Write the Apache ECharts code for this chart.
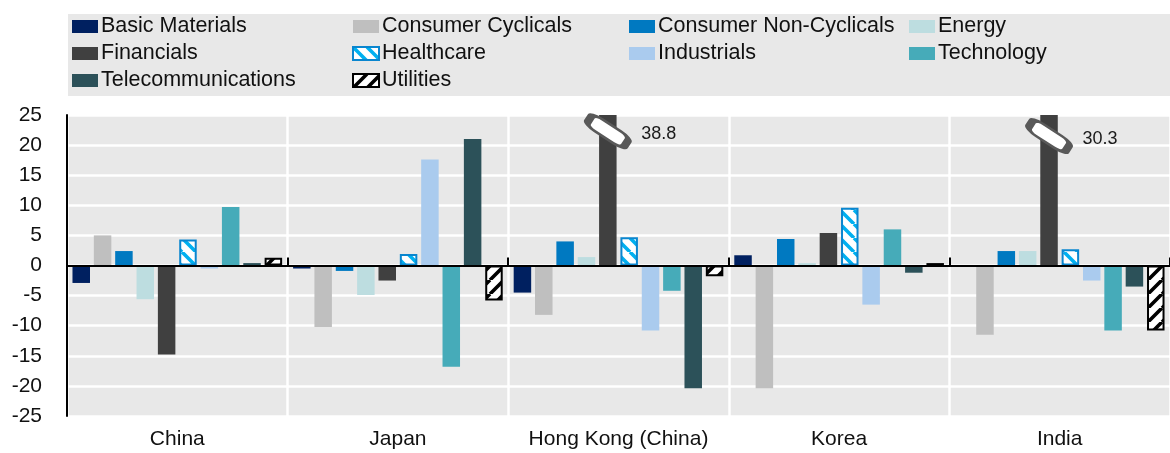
<!DOCTYPE html>
<html>
<head>
<meta charset="utf-8">
<script src="https://cdn.jsdelivr.net/npm/echarts@6/dist/echarts.min.js"></script>
<style>
  html, body { margin: 0; padding: 0; background: #fff; }
  #chart { width: 1170px; height: 453px; }
</style>
</head>
<body>
<div id="chart"></div>
<script>
  // 数据
  const categories = ['China', 'Japan', 'Hong Kong (China)', 'Korea', 'India'];
  const basicMaterials = [-2.9, -0.5, -4.5, 1.7, 0];
  const consumerCyclicals = [5.0, -10.2, -8.2, -20.4, -11.5];
  const consumerNonCyclicals = [2.4, -0.9, 4.0, 4.4, 2.4];
  const energy = [-5.6, -4.9, 1.4, 0.4, 2.4];
  const financials = [-14.8, -2.5, 38.8, 5.4, 30.3];
  const healthcare = [4.3, 1.9, 4.7, 9.6, 2.7];
  const industrials = [-0.5, 17.6, -10.8, -6.5, -2.5];
  const technology = [9.7, -16.8, -4.2, 6.0, -10.8];
  const telecommunications = [0.4, 21.0, -20.4, -1.2, -3.5];
  const utilities = [1.3, -5.8, -1.8, 0.4, -10.8];
  // 轴断开标记（超出范围的柱子）
  const breakAt = [null, null, 22.3, null, 21.5];
  const yMin = -25, yMax = 25, yStep = 5;

  const FONT = "'Liberation Sans', Arial, sans-serif";

  // 斜线填充
  function stripes(color, dir) {
    const p = 14;
    const c = document.createElement('canvas');
    c.width = p; c.height = p;
    const ctx = c.getContext('2d');
    ctx.fillStyle = '#fff';
    ctx.fillRect(0, 0, p, p);
    ctx.strokeStyle = color;
    ctx.lineWidth = 3.6;
    ctx.beginPath();
    for (let k = -1; k <= 1; k++) {
      if (dir === '\\') {
        ctx.moveTo(k * p, 0); ctx.lineTo(k * p + p, p);
      } else {
        ctx.moveTo(k * p, p); ctx.lineTo(k * p + p, 0);
      }
    }
    ctx.stroke();
    return { image: c, repeat: 'repeat' };
  }

  const seriesDefs = [
    { name: 'Basic Materials', data: basicMaterials, color: '#002060' },
    { name: 'Consumer Cyclicals', data: consumerCyclicals, color: '#bfbfbf' },
    { name: 'Consumer Non-Cyclicals', data: consumerNonCyclicals, color: '#0079c1' },
    { name: 'Energy', data: energy, color: '#bddde0' },
    { name: 'Financials', data: financials, color: '#404040' },
    { name: 'Healthcare', data: healthcare, color: stripes('#00b0f0', '\\'), border: '#0a86cf' },
    { name: 'Industrials', data: industrials, color: '#aacbee' },
    { name: 'Technology', data: technology, color: '#46abb9' },
    { name: 'Telecommunications', data: telecommunications, color: '#2c5159' },
    { name: 'Utilities', data: utilities, color: stripes('#000', '/'), border: '#000' },
  ];

  const series = seriesDefs.map(function (s) {
    const item = {
      name: s.name,
      type: 'bar',
      data: s.data,
      barWidth: 17.5,
      barGap: '22%',
      itemStyle: {
        color: s.color,
        borderColor: s.border || s.color,
        borderWidth: s.border ? 2 : 0,
      },
    };
    if (s.name === 'Financials') {
      const marks = [];
      breakAt.forEach(function (b, i) {
        if (b == null) return;
        marks.push({
          coord: [categories[i], b],
          symbol: 'roundRect',
          symbolSize: [44, 14],
          symbolRotate: -33,
          itemStyle: { color: '#fff', borderColor: '#595959', borderWidth: 4.5 },
          label: { show: false },
        });
        marks.push({
          coord: [categories[i], b],
          value: financials[i],
          symbol: 'circle',
          symbolSize: 1,
          itemStyle: { color: 'rgba(0,0,0,0)' },
          label: {
            show: true,
            position: 'right',
            distance: 33,
            offset: [0, 3],
            formatter: function (p) { return p.value.toFixed(1); },
            color: '#1a1a1a',
            fontSize: 18,
            fontFamily: FONT,
          },
        });
      });
      item.markPoint = { animation: false, data: marks };
    }
    return item;
  });

  const legendText = { color: '#111', fontSize: 21.5, fontFamily: FONT, lineHeight: 27, padding: [0, 0, 0, -2] };
  function legendCol(left, names) {
    return {
      orient: 'vertical',
      left: left,
      top: 13,
      itemWidth: 26,
      itemHeight: 13,
      itemGap: 0,
      icon: 'rect',
      padding: 0,
      textStyle: legendText,
      data: names,
    };
  }

  const chart = echarts.init(document.getElementById('chart'));
  const option = {
    animation: false,
    graphic: [{
      type: 'rect',
      left: 68, top: 14,
      shape: { width: 1102, height: 82 },
      style: { fill: '#e8e8e8' },
      z: -1,
    }],
    legend: [
      legendCol(72, ['Basic Materials', 'Financials', 'Telecommunications']),
      legendCol(352, ['Consumer Cyclicals', 'Healthcare', 'Utilities']),
      legendCol(629, ['Consumer Non-Cyclicals', 'Industrials']),
      legendCol(909, ['Energy', 'Technology']),
    ],
    grid: {
      left: 67, right: -10, top: 115, bottom: 37,
      show: true, backgroundColor: '#e8e8e8', borderWidth: 0,
    },
    xAxis: [
      {
        type: 'category',
        data: categories,
        position: 'bottom',
        axisLine: { show: false, onZero: false },
        axisTick: { show: false },
        axisLabel: { color: '#111', fontSize: 21, fontFamily: FONT, margin: 13, interval: 0, hideOverlap: false },
        splitLine: { show: true, interval: 0, lineStyle: { color: '#fff', width: 2.5 } },
      },
      {
        type: 'category',
        data: categories,
        position: 'top',
        z: 5,
        axisLine: { show: true, onZero: true, lineStyle: { color: '#000', width: 2 } },
        axisTick: { show: true, inside: false, interval: 0, length: 8, lineStyle: { color: '#000', width: 2 } },
        axisLabel: { show: false },
        splitLine: { show: false },
      },
    ],
    yAxis: {
      type: 'value',
      min: yMin, max: yMax, interval: yStep,
      axisLine: { show: true, lineStyle: { color: '#000', width: 2 } },
      axisTick: { show: false },
      axisLabel: { color: '#111', fontSize: 21, fontFamily: FONT, margin: 25 },
      splitLine: { show: true, lineStyle: { color: '#fff', width: 2.5 } },
    },
    series: series,
  };
  chart.setOption(option);
</script>
</body>
</html>
